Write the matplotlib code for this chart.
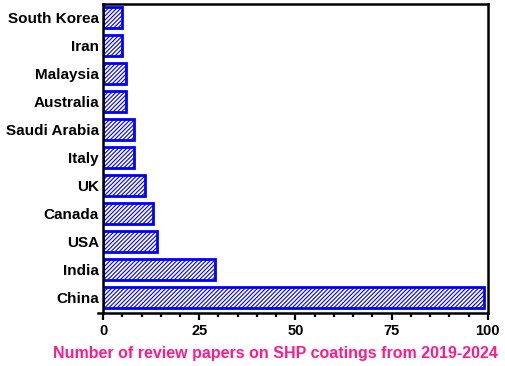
import matplotlib
matplotlib.use('Agg')
import matplotlib.pyplot as plt
from matplotlib.ticker import MultipleLocator

countries = ['China', 'India', 'USA', 'Canada', 'UK', 'Italy',
             'Saudi Arabia', 'Australia', 'Malaysia', 'Iran', 'South Korea']
papers = [99, 29, 14, 13, 11, 8, 8, 6, 6, 5, 5]

plt.rcParams['font.family'] = ['Liberation Sans', 'DejaVu Sans']
plt.rcParams['font.weight'] = 'bold'
plt.rcParams['hatch.linewidth'] = 0.8
plt.rcParams['hatch.color'] = '#0000ff'

fig = plt.figure(figsize=(5.05, 3.66), dpi=100)
ax = fig.add_axes([0.204, 0.145, 0.762, 0.844])

ax.barh(range(len(countries)), papers, height=0.75, color='white',
        edgecolor='#0000ff', linewidth=2.0, hatch='////////')

ax.set_yticks(range(len(countries)))
ax.set_yticklabels(countries, fontsize=11, fontweight='bold')
ax.set_ylim(-0.55, 10.47)
ax.set_xlim(0, 100)
ax.xaxis.set_major_locator(MultipleLocator(25))
ax.xaxis.set_minor_locator(MultipleLocator(5))
ax.tick_params(axis='x', which='major', length=5, width=1.6, labelsize=10.5, pad=3)
ax.tick_params(axis='x', which='minor', length=3, width=1.6)
ax.tick_params(axis='y', length=0, pad=3)
for lbl in ax.get_xticklabels():
    lbl.set_fontweight('bold')

for side in ['left', 'bottom', 'top', 'right']:
    ax.spines[side].set_linewidth(1.8)
    ax.spines[side].set_color('black')
ax.spines['bottom'].set_bounds(-1.3, 100)

ax.set_xlabel('Number of review papers on SHP coatings from 2019-2024',
              color='#ff1a8c', fontsize=11.5, fontweight='bold')
ax.xaxis.set_label_coords(0.447, -0.108)

fig.savefig('out.png', dpi=100)
